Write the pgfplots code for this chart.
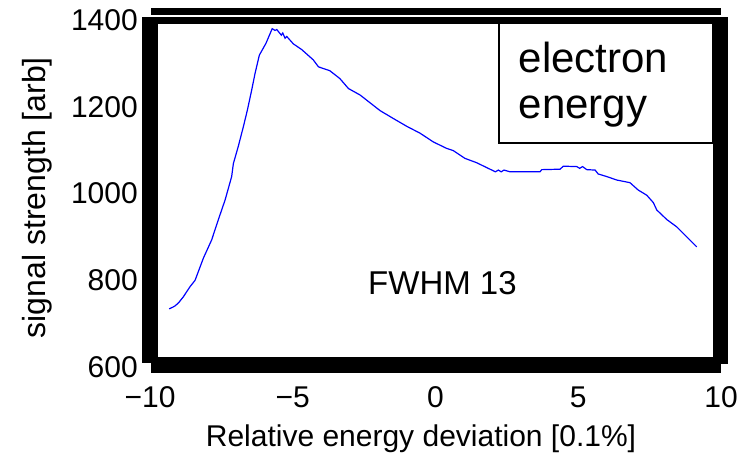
\documentclass[border=0pt]{standalone}
\usepackage{fontspec}
\setmainfont{Liberation Sans}
\usepackage{pgfplots}
\pgfplotsset{compat=1.18}
\definecolor{curveblue}{RGB}{0,0,255}
\begin{document}
\begin{tikzpicture}[x=1pt,y=1pt]
\path[use as bounding box] (0,0) rectangle (747,460);
\begin{axis}[
  at={(150pt,93pt)}, anchor=south west,
  width=571pt, height=347pt, scale only axis,
  xmin=-10, xmax=10, ymin=600, ymax=1400,
  axis line style={draw=none},
  clip=false,
  xtick={-10,-5,0,5,10}, xticklabels={−10,−5,0,5,10},
  ytick={600,800,1000,1200,1400}, yticklabels={600,800,1000,1200,1400},
  major tick length=0pt,
  tick label style={font=\fontsize{30}{32}\selectfont},
  xticklabel style={anchor=base, inner sep=0pt, yshift=-41pt},
  yticklabel style={anchor=east, inner sep=0pt, xshift=-12pt},
  xlabel={Relative energy deviation [0.1\%]},
  ylabel={signal strength [arb]},
  xlabel style={font=\fontsize{30}{32}\selectfont, at={(axis description cs:0.4746,-0.207)}, anchor=center, inner sep=0pt},
  ylabel style={font=\fontsize{32}{34}\selectfont, at={(axis description cs:-0.198,0.488)}, anchor=center, inner sep=0pt},
]
\addplot[curveblue, line width=1.2pt] coordinates {
(-9.33,734) (-9.20,738) (-9.12,741) (-9.00,748) (-8.83,762) (-8.60,785)
(-8.42,800) (-8.13,851) (-7.84,893) (-7.61,939) (-7.37,985) (-7.14,1039)
(-7.08,1069) (-6.91,1108) (-6.73,1154) (-6.59,1192) (-6.44,1238) (-6.32,1277)
(-6.17,1319) (-5.94,1346) (-5.72,1380) (-5.62,1376) (-5.56,1378) (-5.40,1365)
(-5.35,1370) (-5.27,1358) (-5.21,1362) (-4.98,1345) (-4.69,1332) (-4.28,1308)
(-4.10,1292) (-3.70,1283) (-3.35,1265) (-3.05,1242) (-2.64,1227) (-2.29,1209)
(-1.94,1191) (-1.48,1173) (-1.01,1155) (-0.54,1139) (-0.08,1119) (0.39,1104)
(0.62,1099) (1.03,1081) (1.44,1071) (1.91,1056) (2.10,1050) (2.20,1054)
(2.30,1050) (2.40,1054) (2.61,1050) (3.66,1050) (3.72,1055) (4.36,1056)
(4.48,1063) (4.95,1062) (5.05,1058) (5.15,1062) (5.30,1055) (5.59,1054)
(5.70,1045) (6.00,1039) (6.35,1031) (6.81,1025) (7.10,1008) (7.40,996)
(7.63,979) (7.75,962) (8.10,940) (8.45,923) (8.80,900) (9.15,877)
};
\draw[line width=1.3pt] (rel axis cs:0.611,0.6455) rectangle (rel axis cs:0.986,1);
\node[anchor=base west, inner sep=0pt, font=\fontsize{42}{47}\selectfont] at (rel axis cs:0.6454,0.850) {electron};
\node[anchor=base west, inner sep=0pt, font=\fontsize{42}{47}\selectfont] at (rel axis cs:0.6454,0.7147) {energy};
\node[anchor=base west, inner sep=0pt, font=\fontsize{33}{36}\selectfont] at (rel axis cs:0.3818,0.2075) {FWHM 13};
\end{axis}
% thick frame
\fill[black] (142,97) rectangle (158,443);
\fill[black] (713,96) rectangle (728,443);
\fill[black] (142,436) rectangle (728,443);
\fill[black] (151,445) rectangle (721,452);
\fill[black] (151,87) rectangle (721,103);
\end{tikzpicture}
\end{document}
